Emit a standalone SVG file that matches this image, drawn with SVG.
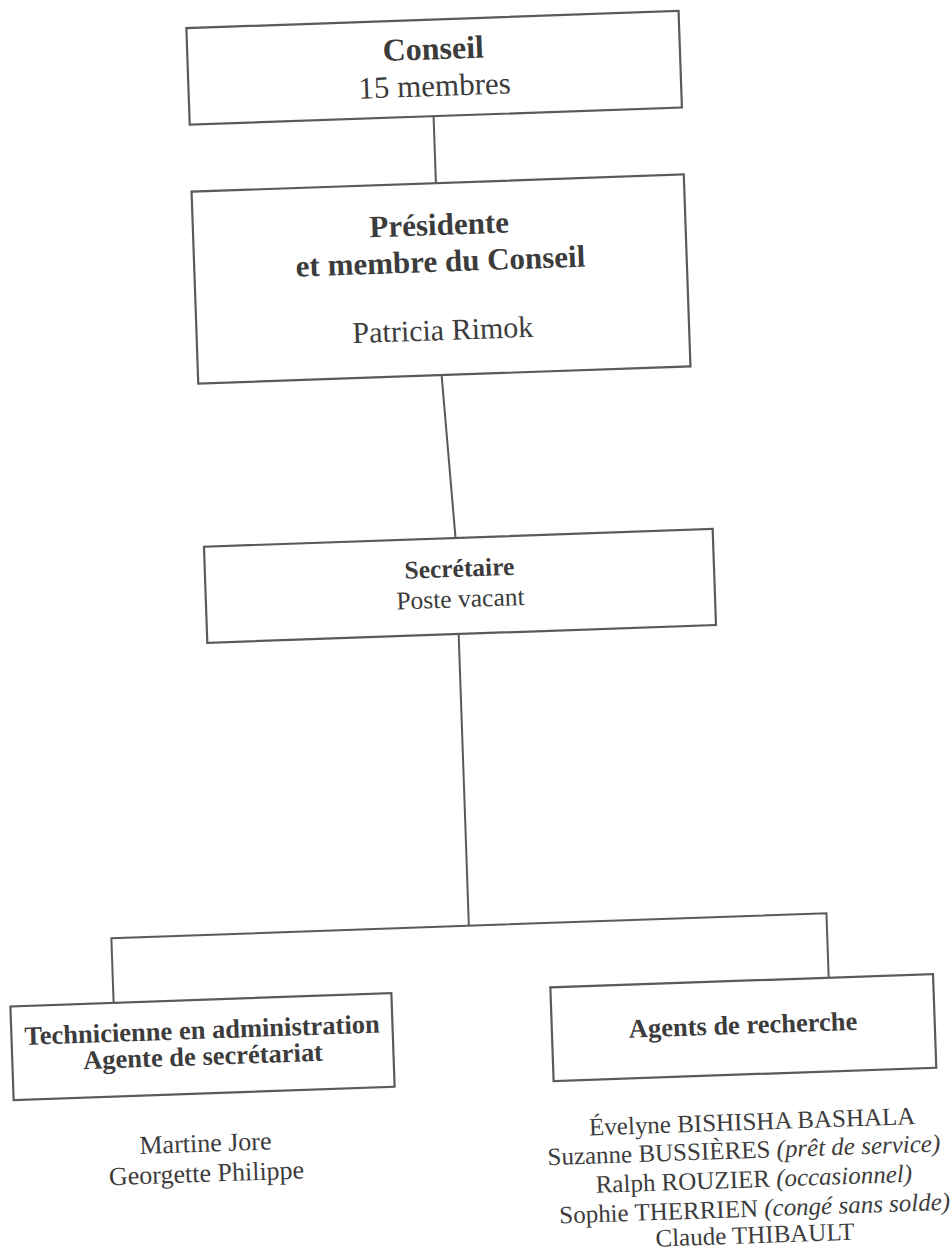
<svg xmlns="http://www.w3.org/2000/svg" width="952" height="1258" viewBox="0 0 952 1258">
  <style>
    .box { fill: #ffffff; stroke: #5a5a5a; stroke-width: 2.2; }
    .conn { fill: none; stroke: #5a5a5a; stroke-width: 2; }
    text { font-family: "Liberation Serif", "Times New Roman", serif; fill: #3c3c3c; text-anchor: middle; }
    .b { font-weight: bold; }
    .i { font-style: italic; }
  </style>
  <rect x="0" y="0" width="952" height="1258" fill="#ffffff"/>
  <g transform="rotate(-2 476 629)">
    <g id="connectors">
      <line class="conn" x1="451.5" y1="115" x2="451.5" y2="182"/>
      <line class="conn" x1="450.5" y1="374" x2="458.7" y2="537.3"/>
      <line class="conn" x1="458.5" y1="633.4" x2="458.5" y2="925.3"/>
      <polyline class="conn" points="100.8,990 100.8,925.3 816.3,925.3 816.3,989.8"/>
    </g>
    <g id="conseil">
      <rect class="box" x="207.5" y="18.4" width="492.5" height="96.6"/>
      <text class="b" x="453.5" y="58.2" font-size="32">Conseil</text>
      <text x="453.5" y="94.9" font-size="31">15 membres</text>
    </g>
    <g id="presidente">
      <rect class="box" x="207" y="182" width="492.5" height="192"/>
      <text class="b" x="453.3" y="233.9" font-size="31">Présidente</text>
      <text class="b" x="453.3" y="270.6" font-size="31">et membre du Conseil</text>
      <text x="453.3" y="339" font-size="30">Patricia Rimok</text>
    </g>
    <g id="secretaire">
      <rect class="box" x="207" y="537.3" width="509" height="96.1"/>
      <text class="b" x="461.5" y="576.2" font-size="25.5">Secrétaire</text>
      <text x="461.5" y="606.7" font-size="25.5">Poste vacant</text>
    </g>
    <g id="technicienne">
      <rect class="box" x="-2.5" y="990" width="381.2" height="93.6"/>
      <text class="b" x="188.3" y="1028.9" font-size="26.5">Technicienne en administration</text>
      <text class="b" x="188.3" y="1055.2" font-size="26.5">Agente de secrétariat</text>
      <text x="187.7" y="1142" font-size="26">Martine Jore</text>
      <text x="187.7" y="1172" font-size="26">Georgette Philippe</text>
    </g>
    <g id="agents">
      <rect class="box" x="537.8" y="989.8" width="382.9" height="93.7"/>
      <text class="b" x="729" y="1042.8" font-size="26.5">Agents de recherche</text>
      <text x="734.8" y="1139.2" font-size="25">Évelyne BISHISHA BASHALA</text>
      <text x="725.5" y="1167.4" font-size="25">Suzanne BUSSIÈRES <tspan class="i">(prêt de service)</tspan></text>
      <text x="734.5" y="1196.7" font-size="25">Ralph ROUZIER <tspan class="i">(occasionnel)</tspan></text>
      <text x="734.3" y="1226" font-size="25">Sophie THERRIEN <tspan class="i">(congé sans solde)</tspan></text>
      <text x="733.7" y="1252.6" font-size="25">Claude THIBAULT</text>
    </g>
  </g>
</svg>
